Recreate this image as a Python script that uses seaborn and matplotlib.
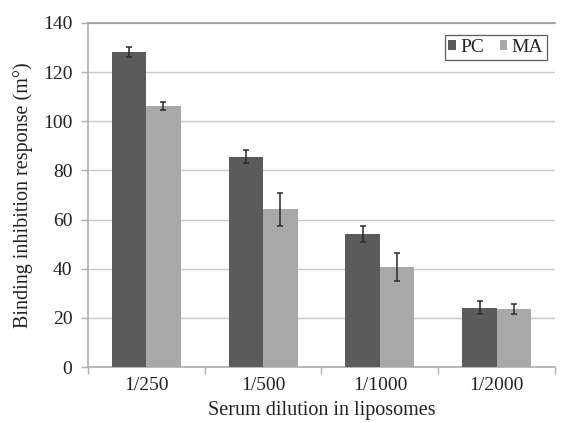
import matplotlib
matplotlib.use("Agg")
import matplotlib.pyplot as plt
import numpy as np
import pandas as pd
import seaborn as sns

dilutions = ["1/250", "1/500", "1/1000", "1/2000"]
pc_values = [128.2, 85.6, 54.2, 24.1]
ma_values = [106.2, 64.2, 40.8, 23.6]
pc_errors = [2.0, 2.6, 3.2, 2.6]
ma_errors = [1.6, 6.6, 5.8, 2.0]
series = ["PC", "MA"]
colors = ["#5b5b5b", "#a8a8a8"]

df = pd.DataFrame({
    "dilution": dilutions * 2,
    "series": ["PC"] * 4 + ["MA"] * 4,
    "value": pc_values + ma_values,
})

sns.set_theme(style="white")
plt.rcParams["font.family"] = ["Liberation Serif", "DejaVu Serif"]

fig = plt.figure(figsize=(5.66, 4.23), dpi=100)
ax = fig.add_axes([0.155, 0.132, 0.826, 0.814])

sns.barplot(data=df, x="dilution", y="value", hue="series", order=dilutions,
            hue_order=series, palette=colors, width=0.59, errorbar=None,
            saturation=1, ax=ax, zorder=3, linewidth=0, edgecolor="none")

# error bars centred on each bar
errs = {"PC": pc_errors, "MA": ma_errors}
vals = {"PC": pc_values, "MA": ma_values}
for container, name in zip(ax.containers, series):
    xs = [p.get_x() + p.get_width() / 2 for p in container.patches]
    ax.errorbar(xs, vals[name], yerr=errs[name], fmt="none", ecolor="#2a2a2a",
                elinewidth=1.1, capsize=2.5, capthick=1.1, zorder=4)

ax.set_ylim(0, 140)
ax.set_yticks(range(0, 141, 20))
ax.set_xlim(-0.5, 3.5)
ax.yaxis.grid(True, color="#c8c8c8", linewidth=1.0, zorder=0)
ax.set_axisbelow(True)

ax.spines["right"].set_visible(False)
ax.spines["top"].set_color("#9a9a9a")
ax.spines["top"].set_linewidth(1.2)
ax.spines["left"].set_color("#b0b0b0")
ax.spines["bottom"].set_color("#b0b0b0")

ax.tick_params(axis="y", length=5, color="#b0b0b0", width=1, labelsize=14,
               labelcolor="#222222", pad=6, left=True)
ax.tick_params(axis="x", which="major", length=0, labelsize=14,
               labelcolor="#222222", pad=7)
ax.set_xticks(np.arange(-0.5, 4.0, 1.0), minor=True)
ax.tick_params(axis="x", which="minor", length=5, color="#b0b0b0", width=1,
               bottom=True)

ax.set_xlabel("Serum dilution in liposomes", fontsize=14.5, color="#222222", labelpad=5)
ax.set_ylabel("Binding inhibition response (m°)", fontsize=14.5, color="#222222", labelpad=7)

leg = ax.legend(loc="upper right", bbox_to_anchor=(0.99, 0.975), ncol=2,
                frameon=True, fontsize=14, handlelength=0.4, handleheight=0.4,
                handletextpad=0.2, columnspacing=0.8, borderpad=0.2,
                borderaxespad=0.2, fancybox=False, title=None)
leg.get_frame().set_edgecolor("#333333")
leg.get_frame().set_linewidth(0.9)

fig.savefig("out.png", dpi=100, facecolor="white")
